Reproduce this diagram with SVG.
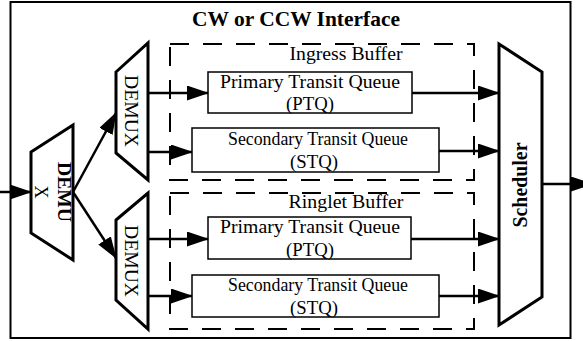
<svg xmlns="http://www.w3.org/2000/svg" width="583" height="341" viewBox="0 0 583 341">
  <style>
    .frame { fill: #fff; stroke: #000; stroke-width: 2; }
    .mux { fill: #fff; stroke: #000; stroke-width: 3; stroke-linejoin: miter; }
    .buf { fill: none; stroke: #000; stroke-width: 2; stroke-dasharray: 19 14; }
    .queue { fill: #fff; stroke: #000; stroke-width: 1.5; }
    .wire { fill: none; stroke: #000; stroke-width: 2.5; marker-end: url(#head); }
    text { font-family: "Liberation Serif", "Times New Roman", serif; fill: #000; }
    .lbl { font-size: 19.5px; }
    .bold { font-weight: bold; }
  </style>
  <defs>
    <marker id="head" markerUnits="userSpaceOnUse" markerWidth="22" markerHeight="16" refX="21" refY="7.5" orient="auto">
      <path d="M0,0 L22,7.5 L0,15 z" fill="#000"/>
    </marker>
  </defs>

  <rect width="583" height="341" fill="#fff"/>

  <!-- interface frame -->
  <g id="interface">
    <rect class="frame" x="10.5" y="2" width="560" height="336"/>
    <text class="bold" x="296" y="26" font-size="21" text-anchor="middle" textLength="208" lengthAdjust="spacingAndGlyphs">CW or CCW Interface</text>
  </g>

  <!-- buffers -->
  <g id="ingress-buffer">
    <rect class="buf" x="170" y="44" width="304" height="136"/>
    <text class="lbl" x="346" y="60" text-anchor="middle" textLength="113" lengthAdjust="spacingAndGlyphs">Ingress Buffer</text>
  </g>
  <g id="ringlet-buffer">
    <rect class="buf" x="170" y="193" width="304" height="136"/>
    <text class="lbl" x="346" y="208" text-anchor="middle" textLength="115" lengthAdjust="spacingAndGlyphs">Ringlet Buffer</text>
  </g>

  <!-- queues -->
  <g id="ingress-ptq">
    <rect class="queue" x="208" y="72" width="204" height="41"/>
    <text class="lbl" x="310" y="88" text-anchor="middle" textLength="180" lengthAdjust="spacingAndGlyphs">Primary Transit Queue</text>
    <text class="lbl" x="310" y="110" text-anchor="middle" textLength="48" lengthAdjust="spacingAndGlyphs">(PTQ)</text>
  </g>
  <g id="ingress-stq">
    <rect class="queue" x="192" y="128" width="247" height="44"/>
    <text class="lbl" x="318" y="145" text-anchor="middle" textLength="180" lengthAdjust="spacingAndGlyphs">Secondary Transit Queue</text>
    <text class="lbl" x="314" y="168" text-anchor="middle" textLength="48" lengthAdjust="spacingAndGlyphs">(STQ)</text>
  </g>
  <g id="ringlet-ptq">
    <rect class="queue" x="208" y="217" width="203" height="42"/>
    <text class="lbl" x="310" y="233" text-anchor="middle" textLength="180" lengthAdjust="spacingAndGlyphs">Primary Transit Queue</text>
    <text class="lbl" x="310" y="256" text-anchor="middle" textLength="48" lengthAdjust="spacingAndGlyphs">(PTQ)</text>
  </g>
  <g id="ringlet-stq">
    <rect class="queue" x="192" y="275" width="247" height="42"/>
    <text class="lbl" x="318" y="291" text-anchor="middle" textLength="180" lengthAdjust="spacingAndGlyphs">Secondary Transit Queue</text>
    <text class="lbl" x="314" y="314" text-anchor="middle" textLength="48" lengthAdjust="spacingAndGlyphs">(STQ)</text>
  </g>

  <!-- multiplexers -->
  <g id="demux-input">
    <polygon class="mux" points="31,152 73,125 73,260 31,233"/>
    <text class="bold" font-size="19.5" transform="translate(58,192) rotate(90)" text-anchor="middle" textLength="60" lengthAdjust="spacingAndGlyphs">DEMU</text>
    <text font-size="18" transform="translate(35,192) rotate(90)" text-anchor="middle">X</text>
  </g>
  <g id="demux-ingress">
    <polygon class="mux" points="116,72 148,43 148,180 116,153"/>
    <text font-size="19.5" transform="translate(125,111) rotate(90)" text-anchor="middle" textLength="72" lengthAdjust="spacingAndGlyphs">DEMUX</text>
  </g>
  <g id="demux-ringlet">
    <polygon class="mux" points="116,220 148,193 148,329 116,300"/>
    <text font-size="19.5" transform="translate(125,261) rotate(90)" text-anchor="middle" textLength="72" lengthAdjust="spacingAndGlyphs">DEMUX</text>
  </g>
  <g id="scheduler">
    <polygon class="mux" points="499,44 542,72 542,297 499,325"/>
    <text class="bold" font-size="20" transform="translate(527,185) rotate(-90)" text-anchor="middle" textLength="85" lengthAdjust="spacingAndGlyphs">Scheduler</text>
  </g>

  <!-- connectors -->
  <g id="connectors">
    <line class="wire" x1="0" y1="192" x2="31" y2="192"/>
    <line class="wire" x1="73" y1="192" x2="116" y2="113"/>
    <line class="wire" x1="73" y1="192" x2="116" y2="258"/>
    <line class="wire" x1="148" y1="93" x2="208" y2="93"/>
    <line class="wire" x1="148" y1="152" x2="192" y2="152"/>
    <line class="wire" x1="148" y1="239" x2="208" y2="239"/>
    <line class="wire" x1="148" y1="296" x2="192" y2="296"/>
    <line class="wire" x1="412" y1="93" x2="499" y2="93"/>
    <line class="wire" x1="439" y1="151" x2="499" y2="151"/>
    <line class="wire" x1="411" y1="239" x2="499" y2="239"/>
    <line class="wire" x1="439" y1="296" x2="499" y2="296"/>
    <line class="wire" x1="542" y1="184" x2="592" y2="184"/>
  </g>
</svg>
